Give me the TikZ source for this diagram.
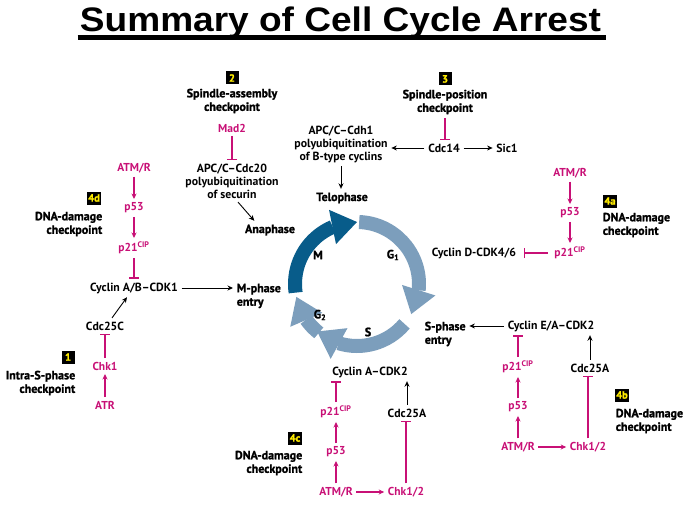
\documentclass[tikz,border=0pt]{standalone}
\usepackage{fontspec}
\setmainfont{PT Sans}
\newfontfamily\titlefont{Liberation Sans}
\newfontfamily\heavyfont{PT Sans}[BoldFeatures={FakeBold=1.4}]
\usetikzlibrary{arrows.meta}
\usetikzlibrary{bending}
\usetikzlibrary{positioning}
\definecolor{signal}{RGB}{200,16,118}
\definecolor{phaseM}{RGB}{8,92,138}
\definecolor{phaseI}{RGB}{124,158,188}
\definecolor{numyellow}{RGB}{255,236,0}
\tikzset{
  molecule/.style={font=\bfseries\fontsize{11.8}{13}\selectfont, align=center},
  factor/.style={molecule, text=signal, font=\bfseries\fontsize{11.5}{13}\selectfont},
  checkpt/.style={font=\heavyfont\bfseries\fontsize{12}{13.5}\selectfont},
  numbox/.style={fill=black, text=numyellow, inner sep=1.5pt,
    minimum size=13pt, font=\heavyfont\bfseries\fontsize{10.5}{10}\selectfont},
  activate/.style={signal, line width=1.3pt, ->},
  inhibit/.style={signal, line width=1.3pt, -{Bar[width=10pt]}},
  phase/.style={line width=14pt,
    -{Triangle[width=35pt, length=25pt, line width=0pt]}}
}

\begin{document}
\begin{tikzpicture}[x=1pt, y=-1pt,
      >={Stealth[length=5.5pt, width=5pt]},
      node distance=40pt,
      on grid,
      line width=0.9pt]

    \useasboundingbox (0,0) rectangle (693,508);

    \node[font=\titlefont\bfseries\fontsize{34}{34}\selectfont, anchor=base, inner sep=0pt]
      (Title) at (340.5,32) {\scalebox{1.09}[1]{Summary of Cell Cycle Arrest}};
    \draw[line width=4.5pt]
      ([shift={(-2,5.5)}]Title.base west) -- ([shift={(4,5.5)}]Title.base east);

    \node[numbox]
      (Num2) at (232,78) {2};
    \node[checkpt, align=center]
      (SpindleAssembly) [below=23pt of Num2] {Spindle-assembly\\checkpoint};
    \node[factor]
      (Mad2) at (232,128) {Mad2};
    \node[molecule]
      (APCCdc20) [below=53pt of Mad2] {APC/C–Cdc20\\polyubiquitination\\of securin};
    \node[checkpt]
      (Anaphase) at (270,230) {Anaphase};

    \node[numbox]
      (Num3) at (445,79) {3};
    \node[checkpt, align=center]
      (SpindlePosition) [below=23pt of Num3] {Spindle-position\\checkpoint};
    \node[molecule]
      (Cdc14) at (444,148) {Cdc14};
    \node[molecule]
      (Sic1) at (507,148) {Sic1};
    \node[molecule]
      (APCCdh1) at (341,144) {APC/C–Cdh1\\polyubiquitination\\of B-type cyclins};
    \node[checkpt]
      (Telophase) at (342,198) {Telophase};

    \node[factor]
      (ATMRa) at (570,173) {ATM/R};
    \node[factor]
      (P53a) [below=of ATMRa] {p53};
    \node[factor]
      (P21a) [below=of P53a] {p21\textsuperscript{CIP}};
    \node[molecule]
      (CyclinD) at (474,253) {Cyclin D-CDK4/6};
    \node[numbox]
      (Num4a) at (610,201) {4a};
    \node[checkpt, align=left, anchor=west]
      (DNADamageA) at (599,225) {DNA-damage\\checkpoint};

    \node[factor]
      (ATMRd) at (134,168) {ATM/R};
    \node[factor]
      (P53d) [below=of ATMRd] {p53};
    \node[factor]
      (P21d) [below=of P53d] {p21\textsuperscript{CIP}};
    \node[molecule]
      (CyclinAB) at (134,288) {Cyclin A/B–CDK1};
    \node[numbox]
      (Num4d) at (94,198) {4d};
    \node[checkpt, align=right, anchor=east]
      (DNADamageD) at (106,224) {DNA-damage\\checkpoint};
    \node[checkpt, align=left, anchor=west]
      (MPhase) at (233,296) {M-phase\\entry};

    \node[molecule]
      (Cdc25C) at (105,326) {Cdc25C};
    \node[factor]
      (Chk1) [below=of Cdc25C] {Chk1};
    \node[factor]
      (ATR) [below=39pt of Chk1] {ATR};
    \node[numbox]
      (Num1) at (68,357) {1};
    \node[checkpt, align=right, anchor=east]
      (IntraS) at (79,383) {Intra-S-phase\\checkpoint};

    \node[molecule]
      (CyclinA) at (370,372) {Cyclin A–CDK2};
    \node[factor]
      (ATMRc) at (336,492) {ATM/R};
    \node[factor]
      (P53c) [above=of ATMRc] {p53};
    \node[factor]
      (P21c) [above=of P53c] {p21\textsuperscript{CIP}};
    \node[factor]
      (Chk12c) at (406,492) {Chk1/2};
    \node[molecule]
      (Cdc25Ac) at (407,413) {Cdc25A};
    \node[numbox]
      (Num4c) at (295,438) {4c};
    \node[checkpt, align=right, anchor=east]
      (DNADamageC) at (306,463) {DNA-damage\\checkpoint};

    \node[molecule]
      (CyclinEA) at (551,326) {Cyclin E/A–CDK2};
    \node[checkpt, align=left, anchor=west]
      (SPhase) at (421,334) {S-phase\\entry};
    \node[factor]
      (ATMRb) at (518,447) {ATM/R};
    \node[factor]
      (P53b) [above=of ATMRb] {p53};
    \node[factor]
      (P21b) [above=of P53b] {p21\textsuperscript{CIP}};
    \node[factor]
      (Chk12b) at (588,447) {Chk1/2};
    \node[molecule]
      (Cdc25Ab) at (590,368) {Cdc25A};
    \node[numbox]
      (Num4b) at (622,395) {4b};
    \node[checkpt, align=left, anchor=west]
      (DNADamageB) at (612,421) {DNA-damage\\checkpoint};

    \coordinate (Cycle) at (357,284);
    \draw[phase, phaseI]
      ([shift={(128:62)}]Cycle) arc[start angle=128, end angle=168, radius=62];
    \draw[phase, phaseM]
      ([shift={(172:62)}]Cycle) arc[start angle=172, end angle=270, radius=62];
    \draw[phase, phaseI]
      ([shift={(272:62)}]Cycle) arc[start angle=272, end angle=389, radius=62];
    \draw[phase, phaseI]
      ([shift={(40:62)}]Cycle) arc[start angle=40, end angle=130, radius=62];
    \node[checkpt]
      (LabelM) at (318,255) {M};
    \node[checkpt]
      (LabelG1) at (393,255) {G\textsubscript{1}};
    \node[checkpt]
      (LabelS) at (368,332) {S};
    \node[checkpt]
      (LabelG2) at (320,315) {G\textsubscript{2}};

    \path[->]
      ([shift={(6,0)}]APCCdc20.south) edge ([shift={(13,0)}]Anaphase.north west)
      (APCCdh1.south) edge (APCCdh1.south |- Telophase.north)
      (Cdc14.west) edge (Cdc14.west -| APCCdh1.east)
      (Cdc14) edge (Sic1)
      (CyclinAB.east) edge (CyclinAB.east -| MPhase.west)
      ([shift={(7,0)}]Cdc25C.north) edge ([shift={(-7,0)}]CyclinAB.south)
      (Cdc25Ac.north) edge (Cdc25Ac.north |- CyclinA.south)
      (CyclinEA.west) edge (CyclinEA.west -| SPhase.east)
      (Cdc25Ab.north) edge (Cdc25Ab.north |- CyclinEA.south);

    \path[activate]
      (ATMRa) edge (P53a)
      (P53a) edge (P21a)
      (ATMRd) edge (P53d)
      (P53d) edge (P21d)
      (ATR) edge (Chk1)
      (ATMRc) edge (P53c)
      (P53c) edge (P21c)
      (ATMRc) edge (Chk12c)
      (ATMRb) edge (P53b)
      (P53b) edge (P21b)
      (ATMRb) edge (Chk12b);

    \path[inhibit]
      (Mad2) edge (APCCdc20)
      (SpindlePosition.south) edge (SpindlePosition.south |- Cdc14.north)
      (P21a) edge [shorten <=3pt, shorten >=4pt] (CyclinD)
      (P21d) edge (CyclinAB)
      (Chk1) edge (Cdc25C)
      (P21c.north) edge (P21c.north |- CyclinA.south)
      (Chk12c.north) edge (Chk12c.north |- Cdc25Ac.south)
      (P21b.north) edge (P21b.north |- CyclinEA.south)
      (Chk12b.north) edge (Chk12b.north |- Cdc25Ab.south);

  \end{tikzpicture}
\end{document}
